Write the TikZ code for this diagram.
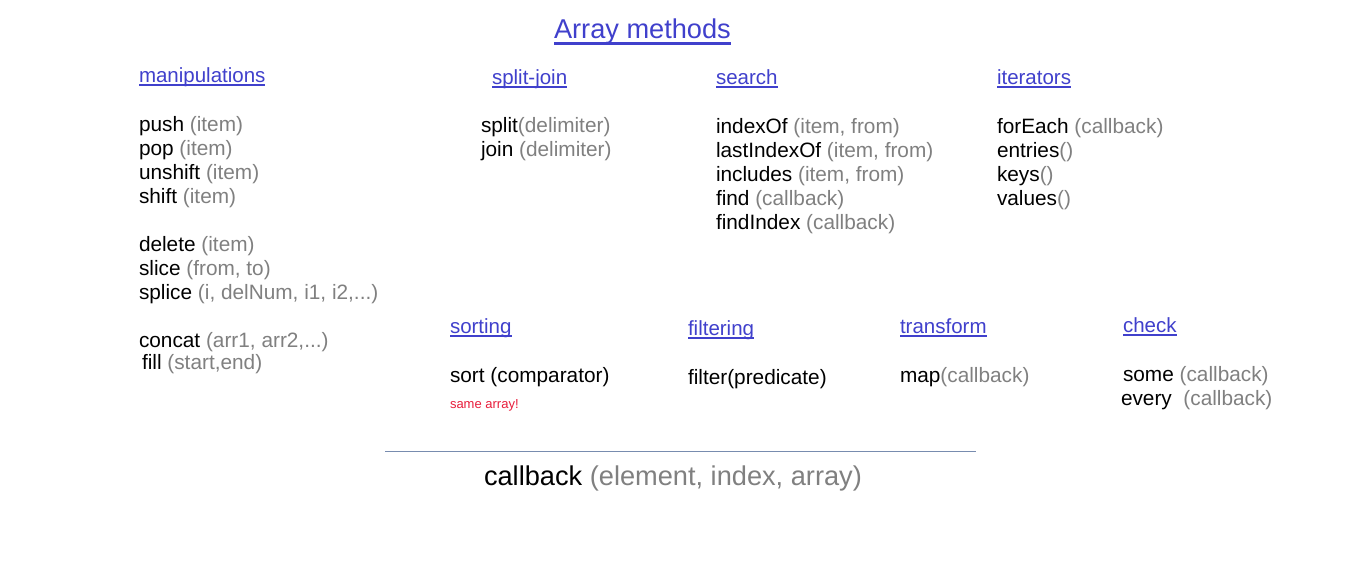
\documentclass[tikz,border=0pt]{standalone}
\usepackage{fontspec}
\setmainfont{Liberation Sans}
\definecolor{linkblue}{RGB}{64,64,204}
\definecolor{argc}{RGB}{128,128,128}
\definecolor{warn}{RGB}{232,30,60}
\definecolor{rulec}{RGB}{120,140,175}
\newcommand\argt[1]{\textcolor{argc}{#1}}
% heading with an underline drawn below its baseline
\newcommand\heading[4][3]{%
  \node[head] (#2) at (#3) {#4};
  \draw[uline] ([yshift=-#1pt]#2.base west) -- ([yshift=-#1pt]#2.base east);}
\begin{document}
\begin{tikzpicture}[x=1pt,y=-1pt,
  every node/.style={inner sep=0pt,outer sep=0pt,anchor=base west},
  body/.style={font=\fontsize{20.8}{24}\selectfont},
  head/.style={font=\fontsize{20.5}{24}\selectfont,text=linkblue},
  big/.style={font=\fontsize{27.2}{32}\selectfont},
  note/.style={font=\fontsize{13}{15}\selectfont,text=warn},
  uline/.style={draw=linkblue,line width=1.8pt}]
\useasboundingbox[fill=white] (0,0) rectangle (1360,562);

% title
\node[big,text=linkblue] (title) at (554,38.5) {Array methods};
\draw[uline,line width=2.4pt] ([yshift=-5pt]title.base west) -- ([yshift=-5pt]title.base east);

% manipulations
\heading{manip}{139,82}{manipulations}
\node[body] (push)    at (139,131) {push \argt{(item)}};
\node[body] (pop)     at (139,155) {pop \argt{(item)}};
\node[body] (unshift) at (139,179) {unshift \argt{(item)}};
\node[body] (shift)   at (139,203) {shift \argt{(item)}};
\node[body] (delete)  at (139,251) {delete \argt{(item)}};
\node[body] (slice)   at (139,275) {slice \argt{(from, to)}};
\node[body] (splice)  at (139,299) {splice \argt{(i, delNum, i1, i2,...)}};
\node[body] (concat)  at (139,347) {concat \argt{(arr1, arr2,...)}};
\node[body] (fill)    at (142,369) {fill \argt{(start,end)}};

% split-join
\heading{splitjoin}{492,84}{split-join}
\node[body] (split) at (481,132) {split\argt{(delimiter)}};
\node[body] (join)  at (481,156) {join \argt{(delimiter)}};

% search
\heading{search}{716,84}{search}
\node[body] (indexof)     at (716,133) {indexOf \argt{(item, from)}};
\node[body] (lastindexof) at (716,157) {lastIndexOf \argt{(item, from)}};
\node[body] (includes)    at (716,181) {includes \argt{(item, from)}};
\node[body] (find)        at (716,205) {find \argt{(callback)}};
\node[body] (findindex)   at (716,229) {findIndex \argt{(callback)}};

% iterators
\heading{iterators}{997,84}{iterators}
\node[body] (foreach) at (997,133) {forEach \argt{(callback)}};
\node[body] (entries) at (997,157) {entries\argt{()}};
\node[body] (keys)    at (997,181) {keys\argt{()}};
\node[body] (values)  at (997,205) {values\argt{()}};

% sorting
\heading{sorting}{450,333}{sorting}
\node[body] (sort) at (450,382) {sort (comparator)};
\node[note] (same) at (450,408) {same array!};

% filtering
\heading{filtering}{688,335}{filtering}
\node[body] (filter) at (688,384) {filter(predicate)};

% transform
\heading{transform}{900,333}{transform}
\node[body] (map) at (900,382) {map\argt{(callback)}};

% check
\heading{check}{1123,332}{check}
\node[body] (some)  at (1123,381) {some \argt{(callback)}};
\node[body] (every) at (1121,405) {every\ \ \argt{(callback)}};

% callback signature
\coordinate (ruleL) at (385,451);
\coordinate (ruleR) at (976,451);
\draw[rulec,line width=0.9pt] (ruleL) -- (ruleR);
\node[big] (callback) at (484,485) {callback \argt{(element, index, array)}};
\end{tikzpicture}
\end{document}
